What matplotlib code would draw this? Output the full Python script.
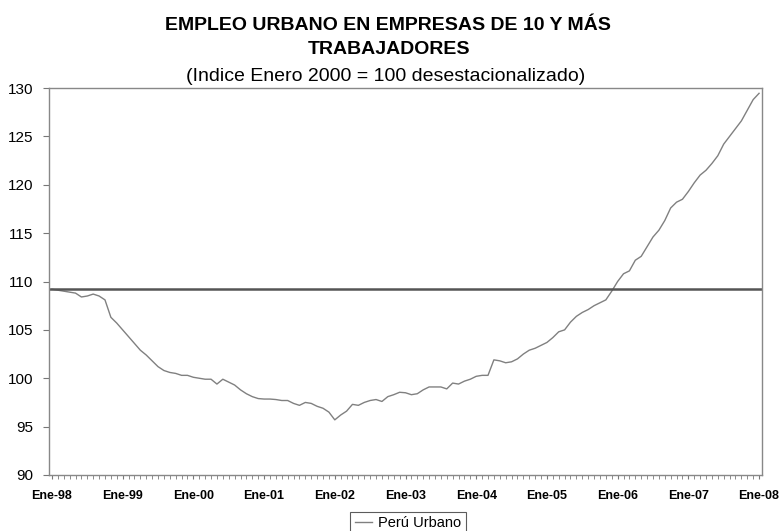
import matplotlib.pyplot as plt
from matplotlib.ticker import FixedLocator, MultipleLocator

plt.rcParams['font.family'] = ['Liberation Sans', 'DejaVu Sans']

# indice mensual desestacionalizado, Ene-98 a Ene-08
valores_1998 = [109.2, 109.1, 109.0, 108.9, 108.8, 108.4, 108.5, 108.7, 108.5, 108.1, 106.3, 105.7]
valores_1999 = [105.0, 104.3, 103.6, 102.9, 102.4, 101.8, 101.2, 100.8, 100.6, 100.5, 100.3, 100.3]
valores_2000 = [100.1, 100.0, 99.9, 99.9, 99.4, 99.9, 99.6, 99.3, 98.8, 98.4, 98.1, 97.9]
valores_2001 = [97.85, 97.85, 97.8, 97.7, 97.7, 97.4, 97.2, 97.5, 97.4, 97.1, 96.9, 96.5]
valores_2002 = [95.7, 96.2, 96.6, 97.3, 97.2, 97.5, 97.7, 97.8, 97.6, 98.1, 98.3, 98.55]
valores_2003 = [98.5, 98.3, 98.4, 98.8, 99.1, 99.1, 99.1, 98.9, 99.5, 99.4, 99.7, 99.9]
valores_2004 = [100.2, 100.3, 100.3, 101.9, 101.8, 101.6, 101.7, 102.0, 102.5, 102.9, 103.1, 103.4]
valores_2005 = [103.7, 104.2, 104.8, 105.0, 105.8, 106.4, 106.8, 107.1, 107.5, 107.8, 108.1, 109.0]
valores_2006 = [110.0, 110.8, 111.1, 112.2, 112.6, 113.6, 114.6, 115.3, 116.3, 117.6, 118.2, 118.5]
valores_2007 = [119.3, 120.2, 121.0, 121.5, 122.2, 123.0, 124.2, 125.0, 125.8, 126.6, 127.7, 128.8]
valores_2008 = [129.45]

peru_urbano = (valores_1998 + valores_1999 + valores_2000 + valores_2001 + valores_2002
               + valores_2003 + valores_2004 + valores_2005 + valores_2006 + valores_2007
               + valores_2008)
meses = list(range(len(peru_urbano)))

nivel_ref = 109.2
etiquetas = ['Ene-98', 'Ene-99', 'Ene-00', 'Ene-01', 'Ene-02', 'Ene-03',
             'Ene-04', 'Ene-05', 'Ene-06', 'Ene-07', 'Ene-08']

fig = plt.figure(figsize=(7.81, 5.31), dpi=100)
ax = fig.add_axes([49 / 781, 1 - 475 / 531, 713 / 781, 387 / 531])

ax.plot(meses, peru_urbano, color='#808080', linewidth=1.0, label='Perú Urbano')
ax.axhline(nivel_ref, color='#555555', linewidth=1.8)

ax.set_xlim(-0.5, 120.5)
ax.set_ylim(90, 130)
ax.yaxis.set_major_locator(MultipleLocator(5))
ax.xaxis.set_major_locator(FixedLocator(list(range(0, 121, 12))))
ax.xaxis.set_minor_locator(MultipleLocator(1))
ax.set_xticklabels(etiquetas, fontsize=9, fontweight='bold')
ax.tick_params(axis='y', labelsize=11, length=4, color='#777777', pad=7)
ax.tick_params(axis='x', which='both', length=3, color='#777777', pad=8)

for s in ax.spines.values():
    s.set_color('#888888')
    s.set_linewidth(1.0)

fig.text(0.497, 1 - 30 / 531, 'EMPLEO URBANO EN EMPRESAS DE 10 Y MÁS',
         ha='center', va='baseline', fontsize=14, fontweight='bold')
fig.text(0.498, 1 - 54 / 531, 'TRABAJADORES',
         ha='center', va='baseline', fontsize=14, fontweight='bold')
fig.text(0.494, 1 - 81 / 531, '(Indice Enero 2000 = 100 desestacionalizado)',
         ha='center', va='baseline', fontsize=14)

leg = fig.legend(loc='upper center', bbox_to_anchor=(408 / 781, 1 - 512 / 531),
                 fontsize=10.5, frameon=True, fancybox=False, handlelength=1.2,
                 handletextpad=0.4, borderpad=0.3, borderaxespad=0)
leg.get_frame().set_edgecolor('#333333')
leg.get_frame().set_linewidth(0.8)

fig.savefig('out.png', dpi=100)
